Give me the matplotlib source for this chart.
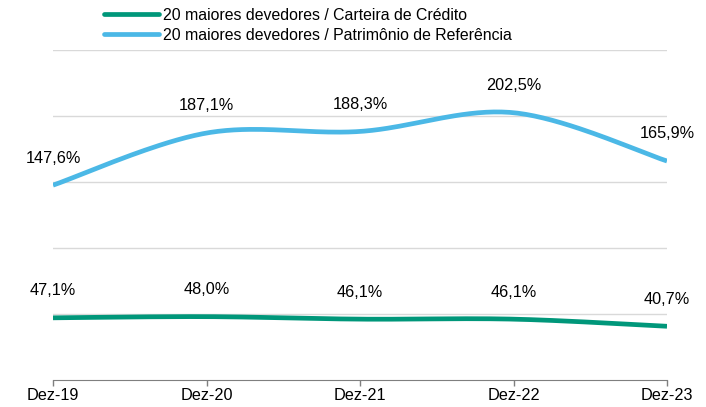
import numpy as np
import matplotlib.pyplot as plt
from matplotlib.lines import Line2D

plt.rcParams.update({'font.family': ['Liberation Sans', 'DejaVu Sans']})
plt.rcParams.update({'font.size': 11.7})

# dados
anos = ['Dez-19', 'Dez-20', 'Dez-21', 'Dez-22', 'Dez-23']
carteira = [47.1, 48.0, 46.1, 46.1, 40.7]
patrimonio = [147.6, 187.1, 188.3, 202.5, 165.9]
rot_carteira = ['47,1%', '48,0%', '46,1%', '46,1%', '40,7%']
rot_patrimonio = ['147,6%', '187,1%', '188,3%', '202,5%', '165,9%']

verde = '#00977A'
azul = '#4BB8E6'

def suave(y, n=40):  # curva suavizada estilo Excel (Catmull-Rom)
    x = np.arange(len(y), dtype=float)
    y = np.array(y, dtype=float)
    px = np.concatenate([[x[0]], x, [x[-1]]])
    py = np.concatenate([[y[0]], y, [y[-1]]])
    xs, ys = [], []
    t = np.linspace(0, 1, n)
    for i in range(len(x) - 1):
        p0 = np.array([x[i], y[i]])
        p3 = np.array([x[i + 1], y[i + 1]])
        p1 = p0 + (np.array([px[i + 2], py[i + 2]]) - np.array([px[i], py[i]])) / 6
        p2 = p3 - (np.array([px[i + 3], py[i + 3]]) - np.array([px[i + 1], py[i + 1]])) / 6
        b = ((1 - t) ** 3)[:, None] * p0 + (3 * (1 - t) ** 2 * t)[:, None] * p1 \
            + (3 * (1 - t) * t ** 2)[:, None] * p2 + (t ** 3)[:, None] * p3
        xs.extend(b[:, 0]); ys.extend(b[:, 1])
    return np.array(xs), np.array(ys)

fig = plt.figure(figsize=(7.06, 4.07), dpi=100)
ax = fig.add_axes([53 / 706, 1 - 380 / 407, 614 / 706, 330 / 407])

for v in [50, 100, 150, 200, 250]:
    ax.axhline(v, color='#D9D9D9', lw=1, zorder=0)

xs, ys = suave(carteira)
ax.plot(xs, ys, color=verde, lw=3.4, solid_capstyle='butt', zorder=3)
xs, ys = suave(patrimonio)
ax.plot(xs, ys, color=azul, lw=3.4, solid_capstyle='butt', zorder=3)

for i in range(len(anos)):
    ax.annotate(rot_carteira[i], (i, carteira[i]), xytext=(0, 19.5), textcoords='offset points',
                ha='center', va='center')
    ax.annotate(rot_patrimonio[i], (i, patrimonio[i]), xytext=(0, 19.5), textcoords='offset points',
                ha='center', va='center')

ax.set_xlim(0, len(anos) - 1)
ax.set_ylim(0, 250)
ax.set_xticks(range(len(anos)))
ax.set_xticklabels(anos)
ax.set_yticks([])
for s in ['top', 'right', 'left']:
    ax.spines[s].set_visible(False)
ax.spines['bottom'].set_color('#7F7F7F')
ax.tick_params(axis='x', colors='#7F7F7F', length=4, width=1, labelcolor='black', pad=2)

handles = [Line2D([], [], color=verde, lw=3.4, solid_capstyle='round'),
           Line2D([], [], color=azul, lw=3.4, solid_capstyle='round')]
fig.legend(handles, ['20 maiores devedores / Carteira de Crédito',
                     '20 maiores devedores / Patrimônio de Referência'],
           loc='upper left', bbox_to_anchor=(104 / 706, 1 - 8 / 407), frameon=False,
           borderpad=0, borderaxespad=0, fontsize=11.4,
           handlelength=3.45, handletextpad=0.25, labelspacing=0.3)

plt.savefig('out.png', dpi=100)
